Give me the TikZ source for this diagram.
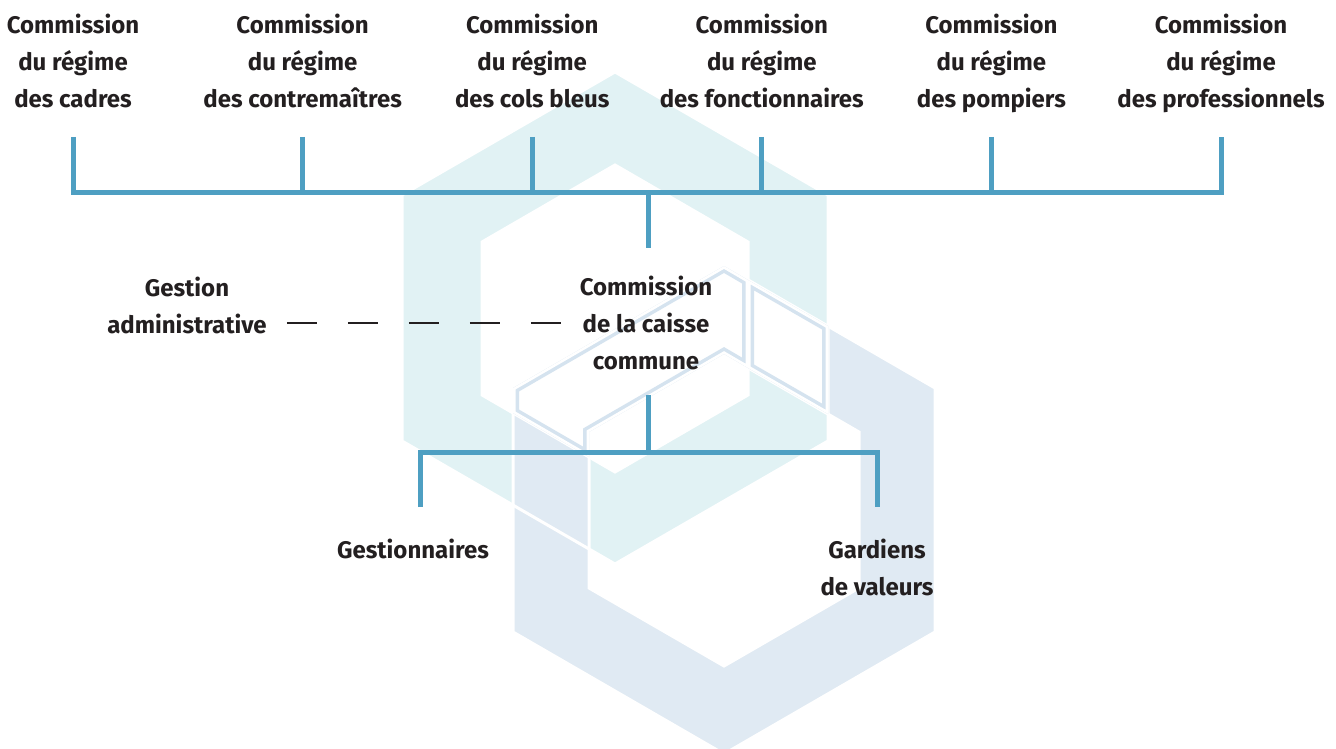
\documentclass[tikz,border=0pt]{standalone}
\usepackage{fontspec}
\setmainfont{Fira Sans}
\usetikzlibrary{positioning}
\definecolor{linkblue}{HTML}{4E9FC2}
\definecolor{hexcyan}{HTML}{E1F2F4}
\definecolor{hexblue}{HTML}{E0EAF3}
\definecolor{hexline}{HTML}{D5E3EF}
\definecolor{inkgrey}{HTML}{231F20}

\begin{document}
\begin{tikzpicture}[x=1pt, y=-1pt, node distance=229.6pt,
	box/.style={align=center, inner sep=0pt, text=inkgrey, font=\bfseries\fontsize{24}{37}\selectfont},
	link/.style={draw=linkblue, line width=5pt, line join=miter},
	dashline/.style={draw=inkgrey, line width=1.1pt, dash pattern=on 30pt off 31pt},
	seam/.style={draw=white, line width=3pt, line join=miter},
	blue ring/.style={insert path={(724,266) -- (935,388) -- (935,632) -- (724,754) -- (513,632) -- (513,388) -- cycle
		(724,354) -- (859,432) -- (859,588) -- (724,666) -- (589,588) -- (589,432) -- cycle}},
	cyan ring/.style={insert path={(615,72) -- (828,195) -- (828,441) -- (615,564) -- (402,441) -- (402,195) -- cycle
		(615,165) -- (748,242) -- (748,395) -- (615,472) -- (482,395) -- (482,242) -- cycle}},
	piece hole/.style={insert path={(513,388) -- (513,413) -- (589,457) -- (589,432) -- (724,354) -- (748,368) -- (748,280) -- (724,266) -- cycle}},
	piece cross/.style={insert path={(748,280) -- (828,326) -- (828,414) -- (748,368) -- cycle}},
	piece under/.style={insert path={(513,413) -- (589,457) -- (589,549) -- (513,505) -- cycle}}]
	\useasboundingbox (0,0) rectangle (1336,749);

	% background hexagons
	\fill[hexblue, even odd rule, blue ring];
	\fill[hexcyan, even odd rule, cyan ring];
	\fill[white, piece hole];
	\fill[white, piece cross];
	\fill[hexblue, piece under];
	\draw[seam, blue ring];
	\draw[seam, cyan ring];
	\begin{scope}
		\clip[piece hole];
		\draw[hexline, line width=12pt, piece hole];
		\draw[white, line width=5pt, piece hole];
	\end{scope}
	\begin{scope}
		\clip[piece cross];
		\draw[hexline, line width=12pt, piece cross];
		\draw[white, line width=5pt, piece cross];
	\end{scope}

	% commissions de regime
	\node [box, anchor=north] (cadres) at (73,14) {Commission\\du régime\\des cadres\strut};
	\node [box, anchor=north] (contremaitres) [right of=cadres] {Commission\\du régime\\des contremaîtres\strut};
	\node [box, anchor=north] (colsbleus) [right of=contremaitres] {Commission\\du régime\\des cols bleus\strut};
	\node [box, anchor=north] (fonctionnaires) [right of=colsbleus] {Commission\\du régime\\des fonctionnaires\strut};
	\node [box, anchor=north] (pompiers) [right of=fonctionnaires] {Commission\\du régime\\des pompiers\strut};
	\node [box, anchor=north] (professionnels) [right of=pompiers] {Commission\\du régime\\des professionnels\strut};

	\node [box] (caisse) at (646,323) {Commission\\de la caisse\\commune};
	\node [box] (gestion) at (187,305) {Gestion\\administrative};
	\node [box] (gestionnaires) at (413,549) {Gestionnaires};
	\node [box] (gardiens) at (877,567) {Gardiens\\de valeurs};

	\coordinate (stubtop) at (0,137);
	\coordinate (bus) at (0,192);
	\coordinate (droptop) at (0,248);
	\coordinate (risetop) at (0,395);
	\coordinate (split) at (648,452);
	\coordinate (stubbot) at (0,507);

	% connectors
	\draw[link] (cadres.south |- stubtop) -- (cadres.south |- bus) -- (professionnels.south |- bus) -- (professionnels.south |- stubtop);
	\foreach \n in {contremaitres, colsbleus, fonctionnaires, pompiers}
		\draw[link] (\n.south |- stubtop) -- (\n.south |- bus);
	\draw[link] (split |- bus) -- (split |- droptop);
	\draw[link] (split |- risetop) -- (split);
	\draw[link] ([xshift=7pt]gestionnaires.north |- stubbot) |- (split) -| (gardiens.north |- stubbot);
	\draw[dashline, shorten <=20pt, shorten >=18pt] (gestion.east |- caisse.west) -- (caisse.west);
\end{tikzpicture}
\end{document}
